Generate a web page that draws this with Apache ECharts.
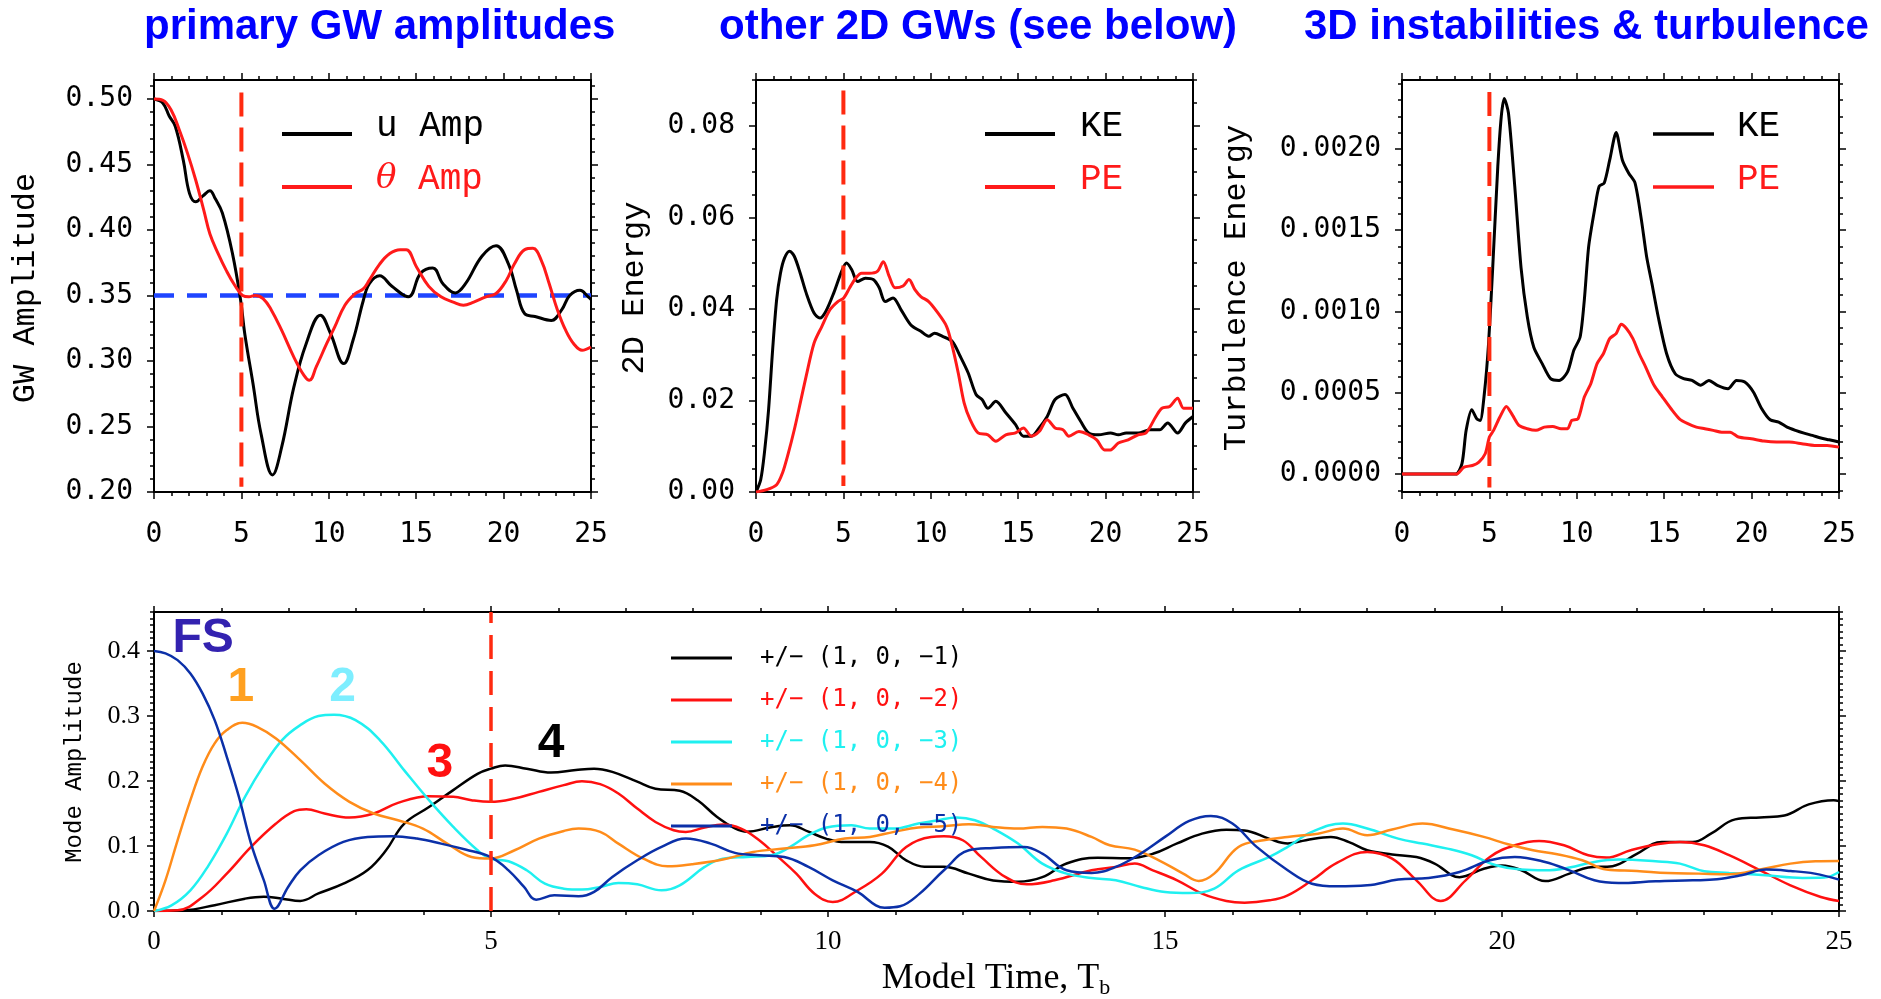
<!DOCTYPE html>
<html>
<head>
<meta charset="utf-8">
<title>GW amplitudes and mode energies</title>
<script src="https://cdn.jsdelivr.net/npm/echarts@6/dist/echarts.min.js"></script>
<style>
html, body { margin: 0; padding: 0; background: #fff; }
#main { width: 1881px; height: 999px; }
</style>
</head>
<body>
<div id="main"></div>
<script>
// ---------- data ----------
var onsetTime = 5;
var thetaRef = 0.35;
var timeTicks = [0, 5, 10, 15, 20, 25];

// primary GW amplitudes
var uAmp = [[0,0.500],[0.5,0.497],[0.87,0.487],[1.22,0.479],[1.68,0.453],[2.03,0.428],[2.39,0.4215],[2.8,0.426],[3.2,0.430],[3.5,0.424],[3.91,0.413],[4.49,0.382],[4.96,0.346],[5.19,0.321],[5.66,0.283],[6.13,0.244],[6.78,0.213],[7.3,0.234],[8.0,0.280],[8.7,0.313],[9.52,0.335],[10.1,0.321],[10.85,0.298],[11.39,0.316],[11.97,0.346],[12.32,0.359],[12.91,0.365],[13.61,0.357],[14.55,0.349],[15.25,0.367],[15.95,0.371],[16.53,0.359],[17.24,0.352],[17.82,0.359],[18.76,0.380],[19.57,0.388],[20.28,0.374],[20.74,0.354],[21.21,0.336],[21.8,0.334],[22.73,0.331],[23.32,0.339],[23.78,0.350],[24.37,0.354],[24.84,0.349],[25,0.347]];
var thetaAmp = [[0,0.500],[0.51,0.499],[0.98,0.4916],[1.45,0.4763],[1.92,0.4585],[2.39,0.438],[2.85,0.415],[3.2,0.397],[3.67,0.382],[4.14,0.369],[4.61,0.358],[5.07,0.350],[5.43,0.349],[5.78,0.350],[6.24,0.3477],[6.71,0.339],[7.3,0.3235],[8.0,0.303],[8.58,0.289],[8.89,0.2853],[9.28,0.2955],[9.87,0.313],[10.34,0.326],[10.92,0.3426],[11.51,0.3515],[11.97,0.355],[12.32,0.3617],[12.91,0.374],[13.49,0.382],[14.08,0.385],[14.43,0.385],[15.01,0.372],[15.72,0.357],[16.42,0.349],[17.12,0.345],[17.7,0.3426],[18.29,0.345],[18.99,0.349],[19.57,0.3515],[20.16,0.3617],[20.63,0.3744],[21.21,0.385],[21.68,0.386],[22.15,0.377],[22.61,0.359],[23.08,0.339],[23.55,0.3235],[24.02,0.313],[24.49,0.3082],[25,0.3107]];

// other 2D GWs
var ke2D = [[0,0],[0.27,0.0027],[0.5,0.0092],[0.72,0.018],[0.95,0.031],[1.18,0.042],[1.4,0.0478],[1.63,0.0511],[1.92,0.0526],[2.19,0.0515],[2.53,0.0478],[2.87,0.0435],[3.32,0.0391],[3.66,0.038],[4.0,0.0395],[4.45,0.0435],[4.9,0.0482],[5.18,0.050],[5.47,0.0486],[5.81,0.046],[6.26,0.0467],[6.71,0.0464],[7.05,0.0446],[7.39,0.0416],[7.84,0.0424],[8.3,0.0398],[8.86,0.0365],[9.43,0.0351],[9.88,0.034],[10.22,0.0347],[10.67,0.034],[11.23,0.0329],[11.69,0.0296],[12.14,0.026],[12.59,0.0213],[12.93,0.0202],[13.27,0.0183],[13.72,0.0198],[14.29,0.0173],[14.85,0.0147],[15.3,0.0122],[15.75,0.0122],[16.2,0.014],[16.66,0.0165],[17.11,0.0202],[17.68,0.0213],[18.13,0.0183],[18.58,0.0154],[19.03,0.0129],[19.6,0.0125],[20.28,0.0129],[20.73,0.0125],[21.18,0.0129],[21.86,0.0129],[22.54,0.0136],[23.1,0.0136],[23.55,0.0151],[24.12,0.0129],[24.57,0.0151],[25,0.0165]];
var pe2D = [[0,0],[0.61,0.0005],[1.18,0.0016],[1.51,0.0041],[1.85,0.0085],[2.19,0.0136],[2.53,0.0194],[2.87,0.0253],[3.32,0.0325],[3.77,0.0362],[4.23,0.0398],[4.68,0.0416],[5.02,0.0424],[5.36,0.0446],[5.7,0.0467],[6.04,0.0478],[6.49,0.0478],[6.94,0.0482],[7.28,0.0503],[7.62,0.0471],[7.96,0.0446],[8.41,0.045],[8.75,0.0464],[9.09,0.0442],[9.43,0.0427],[9.88,0.0416],[10.33,0.0395],[10.9,0.0362],[11.23,0.0318],[11.57,0.026],[11.91,0.0194],[12.25,0.0158],[12.7,0.0129],[13.27,0.0125],[13.72,0.0111],[14.29,0.0125],[14.85,0.0129],[15.3,0.014],[15.75,0.0122],[16.2,0.0132],[16.66,0.0158],[17.11,0.014],[17.56,0.0136],[17.9,0.0122],[18.47,0.0132],[19.03,0.0125],[19.49,0.0114],[19.94,0.0092],[20.28,0.0092],[20.73,0.0107],[21.29,0.0114],[21.86,0.0125],[22.31,0.0129],[22.88,0.0165],[23.22,0.0183],[23.67,0.0187],[24.12,0.0205],[24.46,0.0183],[25,0.0183]];

// 3D instabilities & turbulence
var ke3D = [[0,0],[3.07,0],[3.43,0.000064],[3.67,0.000269],[3.99,0.000396],[4.28,0.00034],[4.47,0.00033],[4.71,0.000494],[4.95,0.0008],[5.19,0.00127],[5.48,0.00189],[5.68,0.0022],[5.85,0.00231],[6.09,0.00222],[6.45,0.00177],[6.81,0.00127],[7.17,0.000966],[7.54,0.00078],[8.02,0.000679],[8.5,0.000587],[8.99,0.000576],[9.47,0.000628],[9.83,0.000761],[10.19,0.000843],[10.43,0.00107],[10.68,0.0014],[11.04,0.00164],[11.28,0.00177],[11.57,0.00179],[11.88,0.00193],[12.25,0.0021],[12.61,0.00193],[12.97,0.00185],[13.33,0.00179],[13.7,0.00156],[13.99,0.00134],[14.3,0.00117],[14.66,0.000966],[15.14,0.00074],[15.63,0.000617],[16.11,0.000587],[16.59,0.000576],[17.08,0.000546],[17.56,0.000576],[18.04,0.000546],[18.65,0.000525],[19.13,0.000576],[19.61,0.000566],[20.1,0.000505],[20.58,0.000402],[21.06,0.000334],[21.55,0.00032],[22.03,0.000289],[22.51,0.000269],[23.0,0.000252],[23.48,0.000238],[23.96,0.000222],[24.44,0.000211],[25,0.000197]];
var pe3D = [[0,0],[3.1,0],[3.55,0.000043],[4.03,0.000053],[4.4,0.000074],[4.76,0.000125],[5.0,0.000228],[5.24,0.000269],[5.6,0.000351],[5.97,0.000416],[6.33,0.000361],[6.69,0.0003],[7.17,0.000279],[7.66,0.000269],[8.14,0.000289],[8.62,0.000293],[9.1,0.000279],[9.47,0.000279],[9.71,0.00033],[10.07,0.00034],[10.43,0.000474],[10.8,0.000556],[11.16,0.000679],[11.52,0.00074],[11.88,0.000833],[12.25,0.000864],[12.54,0.000921],[12.85,0.000894],[13.21,0.000833],[13.57,0.00074],[13.94,0.000658],[14.42,0.000546],[14.9,0.000474],[15.39,0.000402],[15.87,0.00034],[16.35,0.00031],[16.84,0.000289],[17.32,0.000279],[17.8,0.000269],[18.29,0.000258],[18.77,0.000258],[19.25,0.000228],[19.98,0.000217],[20.7,0.000203],[21.43,0.000197],[22.15,0.000197],[22.87,0.000187],[23.6,0.000176],[24.32,0.000176],[25,0.000166]];

// mode amplitudes +/- (1, 0, -n)
var mode1 = [[0,0],[0.45,0.001],[0.9,0.009],[1.35,0.019],[1.63,0.022],[1.9,0.019],[2.17,0.0155],[2.44,0.027],[2.81,0.042],[3.17,0.063],[3.44,0.093],[3.71,0.134],[4.08,0.160],[4.44,0.186],[4.8,0.211],[5.0,0.219],[5.21,0.224],[5.53,0.219],[5.89,0.213],[6.26,0.217],[6.53,0.219],[6.8,0.214],[7.17,0.199],[7.44,0.188],[7.8,0.185],[8.07,0.170],[8.35,0.145],[8.62,0.127],[8.8,0.122],[9.16,0.129],[9.44,0.132],[9.71,0.122],[9.98,0.111],[10.25,0.106],[10.62,0.106],[10.89,0.099],[11.16,0.078],[11.43,0.068],[11.72,0.068],[12.09,0.0575],[12.45,0.047],[12.82,0.045],[13.18,0.052],[13.54,0.073],[14.0,0.082],[14.45,0.081],[14.82,0.088],[15.18,0.104],[15.55,0.119],[15.91,0.125],[16.18,0.124],[16.55,0.111],[16.82,0.104],[17.09,0.109],[17.46,0.114],[17.73,0.106],[18.0,0.0935],[18.37,0.087],[18.73,0.083],[19.0,0.073],[19.37,0.052],[19.73,0.065],[20.0,0.070],[20.28,0.063],[20.64,0.046],[21.0,0.0575],[21.28,0.067],[21.64,0.069],[22.0,0.088],[22.37,0.106],[22.83,0.106],[23.1,0.119],[23.46,0.141],[23.83,0.144],[24.19,0.147],[24.55,0.164],[24.92,0.1705],[25,0.169]];
var mode2 = [[0,0],[0.35,0.001],[0.72,0.0216],[1.08,0.0575],[1.44,0.0986],[1.81,0.1345],[2.08,0.1535],[2.26,0.1566],[2.53,0.150],[2.9,0.1438],[3.26,0.150],[3.62,0.1664],[4.08,0.1766],[4.44,0.1756],[4.71,0.1705],[4.99,0.1679],[5.35,0.173],[5.71,0.1833],[6.08,0.1936],[6.35,0.1997],[6.62,0.1951],[6.89,0.1807],[7.17,0.1576],[7.44,0.137],[7.71,0.1243],[7.89,0.1217],[8.17,0.1284],[8.44,0.133],[8.71,0.1268],[8.98,0.1088],[9.26,0.0832],[9.53,0.0575],[9.8,0.0267],[10.07,0.0139],[10.44,0.0318],[10.8,0.0575],[11.16,0.0986],[11.53,0.114],[11.72,0.115],[12.0,0.1088],[12.27,0.0832],[12.63,0.0524],[12.95,0.041],[13.36,0.0472],[13.91,0.0626],[14.27,0.0678],[14.55,0.0729],[14.82,0.0626],[15.18,0.0472],[15.55,0.0267],[15.91,0.0154],[16.18,0.0128],[16.55,0.0164],[16.82,0.0241],[17.18,0.0472],[17.55,0.0739],[18.0,0.0909],[18.37,0.0806],[18.73,0.0472],[19.09,0.0154],[19.46,0.0472],[19.82,0.0832],[20.19,0.1011],[20.55,0.1078],[20.92,0.1011],[21.28,0.0858],[21.55,0.0822],[21.91,0.0935],[22.28,0.1022],[22.64,0.1063],[23.0,0.1011],[23.37,0.0858],[23.83,0.0626],[24.28,0.0395],[24.73,0.0216],[25,0.0154]];
var mode3 = [[0,0],[0.26,0.0087],[0.54,0.0318],[0.81,0.0703],[1.08,0.119],[1.35,0.1756],[1.63,0.2244],[1.9,0.263],[2.17,0.286],[2.44,0.2999],[2.67,0.302],[2.99,0.2937],[3.35,0.263],[3.71,0.2167],[4.08,0.1705],[4.44,0.1294],[4.8,0.0935],[4.99,0.0806],[5.26,0.0765],[5.53,0.0626],[5.8,0.042],[6.08,0.0344],[6.35,0.0329],[6.62,0.037],[6.89,0.0431],[7.17,0.041],[7.53,0.0318],[7.8,0.0395],[8.17,0.0678],[8.44,0.0806],[8.8,0.0832],[9.16,0.0858],[9.44,0.0986],[9.71,0.1166],[9.98,0.1284],[10.35,0.132],[10.62,0.1268],[10.98,0.1268],[11.34,0.1345],[11.63,0.1397],[11.91,0.1438],[12.18,0.1397],[12.45,0.1268],[12.82,0.1037],[13.18,0.0729],[13.54,0.0575],[13.91,0.0508],[14.27,0.0472],[14.64,0.037],[15.0,0.0293],[15.36,0.0277],[15.73,0.0344],[16.09,0.0626],[16.55,0.0832],[16.82,0.0986],[17.18,0.1217],[17.64,0.1345],[18.0,0.1268],[18.46,0.1114],[18.82,0.1037],[19.19,0.096],[19.55,0.0858],[19.91,0.0703],[20.28,0.0637],[20.64,0.0626],[21.0,0.0668],[21.37,0.0755],[21.73,0.0791],[22.28,0.0765],[22.64,0.0729],[23.0,0.0611],[23.37,0.0585],[23.91,0.055],[24.46,0.0508],[24.78,0.0514],[25,0.060]];
var mode4 = [[0,0],[0.17,0.0472],[0.35,0.1088],[0.54,0.1705],[0.72,0.2218],[0.9,0.2578],[1.08,0.2783],[1.31,0.2896],[1.53,0.2834],[1.81,0.2655],[2.17,0.2321],[2.53,0.1961],[2.9,0.1679],[3.26,0.150],[3.62,0.1397],[3.99,0.1268],[4.35,0.1037],[4.71,0.0832],[4.99,0.0806],[5.35,0.0935],[5.71,0.1114],[6.08,0.1232],[6.3,0.1268],[6.62,0.1217],[6.89,0.1037],[7.26,0.0806],[7.62,0.0688],[7.98,0.0719],[8.44,0.0791],[8.89,0.0909],[9.35,0.096],[9.8,0.1011],[10.25,0.1114],[10.62,0.114],[10.98,0.1217],[11.34,0.1284],[11.72,0.1304],[12.09,0.1335],[12.45,0.1294],[12.82,0.1268],[13.18,0.1294],[13.54,0.1268],[13.91,0.114],[14.18,0.1011],[14.55,0.0945],[14.91,0.078],[15.27,0.0575],[15.5,0.0462],[15.73,0.0575],[16.09,0.0986],[16.46,0.1088],[16.82,0.114],[17.27,0.119],[17.64,0.1268],[18.0,0.1166],[18.37,0.1253],[18.82,0.1345],[19.28,0.1253],[19.73,0.114],[20.09,0.1027],[20.46,0.0935],[20.82,0.0873],[21.19,0.078],[21.55,0.0637],[22.0,0.0616],[22.46,0.0585],[22.92,0.0575],[23.37,0.0565],[23.83,0.0637],[24.28,0.0729],[24.65,0.0765],[25,0.077]];
var mode5 = [[0,0.400],[0.17,0.3964],[0.35,0.386],[0.54,0.3655],[0.72,0.3348],[0.9,0.2937],[1.08,0.2372],[1.26,0.1756],[1.44,0.1037],[1.63,0.0472],[1.79,0.0036],[1.99,0.037],[2.17,0.0626],[2.44,0.0858],[2.81,0.1063],[3.17,0.114],[3.53,0.115],[3.9,0.1114],[4.26,0.1037],[4.62,0.0945],[4.99,0.0832],[5.26,0.0626],[5.49,0.037],[5.67,0.0175],[5.94,0.0241],[6.3,0.0226],[6.53,0.0293],[6.8,0.0524],[7.17,0.078],[7.53,0.0986],[7.89,0.1114],[8.26,0.1037],[8.62,0.0894],[8.98,0.0858],[9.35,0.0832],[9.71,0.0678],[10.07,0.0472],[10.44,0.0293],[10.71,0.0087],[10.84,0.005],[11.07,0.0072],[11.36,0.0267],[11.72,0.0626],[12.09,0.0935],[12.45,0.097],[12.91,0.0986],[13.18,0.0883],[13.54,0.0626],[13.91,0.0585],[14.27,0.0678],[14.64,0.0883],[15.0,0.114],[15.36,0.1386],[15.68,0.1463],[16.0,0.1345],[16.36,0.0986],[16.82,0.0626],[17.18,0.042],[17.55,0.038],[18.0,0.0395],[18.46,0.0483],[18.91,0.0508],[19.37,0.0601],[19.82,0.078],[20.19,0.0832],[20.64,0.0755],[21.0,0.0626],[21.37,0.0472],[21.73,0.0431],[22.28,0.0457],[22.83,0.0472],[23.19,0.0488],[23.55,0.055],[23.92,0.0637],[24.28,0.0616],[24.64,0.0575],[25,0.0483]];

// labels of the mode curves, placed at [time, amplitude]
var modeTags = [
    {name: 'FS', value: [0.73, 0.419], color: '#3322b0'},
    {name: '1', value: [1.29, 0.343], color: '#ffa020'},
    {name: '2', value: [2.80, 0.343], color: '#7eeeff'},
    {name: '3', value: [4.24, 0.226], color: '#ff1010'},
    {name: '4', value: [5.89, 0.258], color: '#000000'}
];

// y axis tick labels
var ampTicks = [0.20, 0.25, 0.30, 0.35, 0.40, 0.45, 0.50];
var e2DTicks = [0, 0.02, 0.04, 0.06, 0.08];
var e3DTicks = [0, 0.0005, 0.0010, 0.0015, 0.0020];
var modeTicks = [0, 0.1, 0.2, 0.3, 0.4];

// ---------- chart ----------
var RED = '#ff1a1a', ONSET = '#ff2a10';
var MONO = 'Liberation Mono', SANSMONO = 'DejaVu Sans Mono', SERIF = 'Liberation Serif';

function steps(a, b, st) {
    var out = [];
    for (var i = 0; a + i * st <= b + st * 1e-6; i++) out.push(+(a + i * st).toFixed(7));
    return out;
}

var grids = [
    {left: 154, top: 80, width: 437, height: 412},
    {left: 756, top: 80, width: 437, height: 412},
    {left: 1402, top: 80, width: 437, height: 412},
    {left: 154, top: 612, width: 1685, height: 299}
];

var xAxes = [], yAxes = [];

function addX(gi, bottomPanel) {
    var lab = bottomPanel
        ? {fontFamily: SERIF, fontSize: 27, color: '#000', margin: 17}
        : {fontFamily: SANSMONO, fontSize: 28, color: '#000', margin: 29};
    ['bottom', 'top'].forEach(function(pos) {
        xAxes.push({
            gridIndex: gi, type: 'value', position: pos, min: 0, max: 25, interval: 5,
            axisLine: {show: true, onZero: false, lineStyle: {color: '#000', width: 2}},
            axisTick: {show: true, length: bottomPanel ? 6 : 7, lineStyle: {color: '#000', width: 1.5}},
            minorTick: {show: true, splitNumber: 5, length: 4, lineStyle: {color: '#000', width: 1.5}},
            splitLine: {show: false},
            axisLabel: pos === 'bottom' ? Object.assign({show: true, customValues: timeTicks}, lab) : {show: false}
        });
    });
}

// returns index of the left (labelled) y axis
function addY(gi, min, max, majors, minorStep, digits, lab) {
    var first = yAxes.length;
    var minors = steps(Math.ceil(min / minorStep - 1e-6) * minorStep, max, minorStep);
    ['left', 'right'].forEach(function(pos) {
        yAxes.push({
            gridIndex: gi, type: 'value', position: pos, min: min, max: max,
            axisLine: {show: true, onZero: false, lineStyle: {color: '#000', width: 2}},
            axisTick: {show: true, length: 7, customValues: majors, lineStyle: {color: '#000', width: 1.5}},
            splitLine: {show: false},
            axisLabel: pos === 'left' ? Object.assign({
                show: true, customValues: majors,
                formatter: function(v) { return (+v).toFixed(digits); }
            }, lab) : {show: false}
        });
        yAxes.push({
            gridIndex: gi, type: 'value', position: pos, min: min, max: max,
            axisLine: {show: false, onZero: false},
            axisTick: {show: true, length: 4, customValues: minors, lineStyle: {color: '#000', width: 1.5}},
            splitLine: {show: false},
            axisLabel: {show: false}
        });
    });
    return first;
}

var topLab = {fontFamily: SANSMONO, fontSize: 28, color: '#000', margin: 21};
addX(0, false); addX(1, false); addX(2, false); addX(3, true);
var y0 = addY(0, 0.2, 0.5145, ampTicks, 0.01, 2, topLab);
var y1 = addY(1, 0, 0.09, e2DTicks, 0.005, 2, topLab);
var y2 = addY(2, -0.00011, 0.002423, e3DTicks, 0.0001, 4, topLab);
var y3 = addY(3, 0, 0.46, modeTicks, 0.01, 1, {fontFamily: SERIF, fontSize: 26, color: '#000', margin: 14});

function curve(name, data, color, xi, yi, width, smooth) {
    return {
        name: name, type: 'line', xAxisIndex: xi, yAxisIndex: yi, data: data,
        symbol: 'none', smooth: smooth, silent: true, z: 3,
        lineStyle: {color: color, width: width}, itemStyle: {color: color}
    };
}
function dashed(data, color, xi, yi, width, dash, z) {
    return {
        type: 'line', xAxisIndex: xi, yAxisIndex: yi, data: data, symbol: 'none',
        silent: true, z: z, lineStyle: {color: color, width: width, type: dash}
    };
}

var modeNames = ['+/− (1, 0, −1)', '+/− (1, 0, −2)', '+/− (1, 0, −3)', '+/− (1, 0, −4)', '+/− (1, 0, −5)'];
var modeColors = ['#000000', '#ff1010', '#1ff0f0', '#ff8c1a', '#0b30a8'];
var modeData = [mode1, mode2, mode3, mode4, mode5];

var series = [
    dashed([[0, thetaRef], [25, thetaRef]], '#1f45ff', 0, y0, 4.5, [20, 13], 2),
    curve('u Amp', uAmp, '#000', 0, y0, 3, 0.4),
    curve('θ Amp', thetaAmp, RED, 0, y0, 3, 0.4),
    dashed([[onsetTime, 0.505], [onsetTime, 0.204]], ONSET, 0, y0, 4, [24, 11], 5),
    curve('KE', ke2D, '#000', 2, y1, 3, 0.3),
    curve('PE', pe2D, RED, 2, y1, 3, 0.3),
    dashed([[onsetTime, 0.0877], [onsetTime, 0.0013]], ONSET, 2, y1, 4, [24, 11], 5),
    curve('KE', ke3D, '#000', 4, y2, 3, 0.25),
    curve('PE', pe3D, RED, 4, y2, 3, 0.25),
    dashed([[onsetTime, 0.002349], [onsetTime, -0.000082]], ONSET, 4, y2, 4, [24, 11], 5)
];
modeNames.forEach(function(n, i) {
    series.push(curve(n, modeData[i], modeColors[i], 6, y3, 2.5, 0.4));
});
series.push(dashed([[onsetTime, 0], [onsetTime, 0.46]], ONSET, 6, y3, 3.5, [24, 12], 5));
series.push({
    type: 'scatter', xAxisIndex: 6, yAxisIndex: y3, symbolSize: 0, silent: true, z: 6,
    itemStyle: {opacity: 1},
    data: modeTags.map(function(t) {
        return {name: t.name, value: t.value, label: {color: t.color}};
    }),
    label: {
        show: true, position: 'inside', formatter: '{b}', textBorderWidth: 0, opacity: 1,
        fontFamily: 'Liberation Sans', fontWeight: 'bold', fontSize: 48
    }
});

function topLegend(left, iw, names, pad) {
    return {
        left: left, top: 103, orient: 'vertical', selectedMode: false,
        itemWidth: iw, itemHeight: 20, itemGap: 17,
        icon: 'path://M0,0L70,0L70,4.2L0,4.2Z',
        data: [{name: names[0], textStyle: {color: '#000'}}, {name: names[1], textStyle: {color: RED}}],
        formatter: function(n) { return n.replace('θ', '{th|θ}'); },
        textStyle: {
            fontFamily: MONO, fontSize: 36, padding: [0, 0, 16, pad],
            rich: {th: {fontFamily: 'DejaVu Serif', fontStyle: 'italic', fontSize: 34, color: RED}}
        }
    };
}

var legends = [
    topLegend(277, 70, ['u Amp', 'θ Amp'], 19),
    topLegend(980, 70, ['KE', 'PE'], 20),
    topLegend(1648, 61, ['KE', 'PE'], 18),
    {
        left: 666, top: 641, orient: 'vertical', selectedMode: false,
        itemWidth: 61, itemHeight: 14, itemGap: 18,
        icon: 'path://M0,0L61,0L61,3L0,3Z',
        data: modeNames.map(function(n, i) { return {name: n, textStyle: {color: modeColors[i]}}; }),
        textStyle: {fontFamily: SANSMONO, fontSize: 24, padding: [0, 0, 10, 23]}
    }
];

function label(text, x, y, font, size, color, rot, weight) {
    return {
        type: 'text', x: x, y: y, rotation: rot || 0, silent: true,
        style: {
            text: text, fontFamily: font, fontSize: size, fontWeight: weight || 'normal', fill: color,
            align: 'center', verticalAlign: 'middle', textAlign: 'center', textVerticalAlign: 'middle'
        }
    };
}
function title(text, x) {
    return {
        type: 'text', x: x, y: 27, silent: true,
        style: {
            text: text, fontFamily: 'Liberation Sans', fontSize: 42, fontWeight: 'bold', fill: '#0000ff',
            align: 'left', verticalAlign: 'middle', textAlign: 'left', textVerticalAlign: 'middle'
        }
    };
}

var graphics = [
    title('primary GW amplitudes', 144),
    title('other 2D GWs (see below)', 719),
    title('3D instabilities & turbulence', 1304),
    label('GW Amplitude', 26, 288, MONO, 32, '#000', Math.PI / 2),
    label('2D Energy', 635, 288, MONO, 32, '#000', Math.PI / 2),
    label('Turbulence Energy', 1237, 288, MONO, 32, '#000', Math.PI / 2),
    label('Mode Amplitude', 75, 762, MONO, 24, '#000', Math.PI / 2),
    {
        type: 'text', x: 996, y: 979, silent: true,
        style: {
            text: '{a|Model Time, T}{b|b}', align: 'center', verticalAlign: 'middle',
            textAlign: 'center', textVerticalAlign: 'middle', fill: '#000',
            rich: {
                a: {fontFamily: SERIF, fontSize: 36, lineHeight: 40, fill: '#000'},
                b: {fontFamily: SERIF, fontSize: 22, lineHeight: 16, verticalAlign: 'bottom', fill: '#000'}
            }
        }
    }
];

var chart = echarts.init(document.getElementById('main'), null, {renderer: 'canvas'});
chart.setOption({
    backgroundColor: '#fff',
    animation: false,
    grid: grids,
    xAxis: xAxes,
    yAxis: yAxes,
    legend: legends,
    series: series,
    graphic: graphics
});
</script>
</body>
</html>
